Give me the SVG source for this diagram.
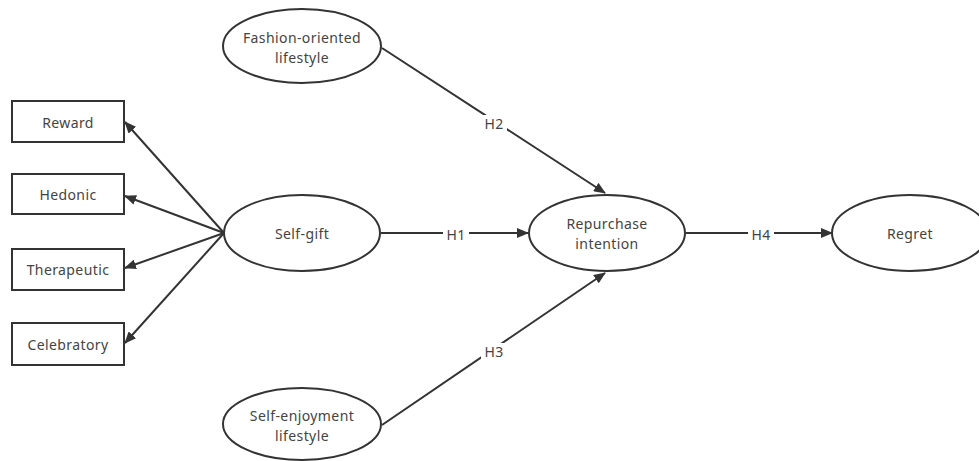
<svg xmlns="http://www.w3.org/2000/svg" width="979" height="461" viewBox="0 0 979 461">
<defs>
<marker id="ah" viewBox="0 0 12 10" refX="11" refY="5" markerWidth="12" markerHeight="10" markerUnits="userSpaceOnUse" orient="auto">
<path d="M0,0 L12,5 L0,10 Z" fill="#333"/>
</marker>
<style>
.n{fill:#fff;stroke:#333;stroke-width:2}
.t{font-family:"Noto Sans","Open Sans",sans-serif;font-size:14px;letter-spacing:0.4px;fill:#444;text-anchor:middle;dominant-baseline:central}
.c{stroke:#333;stroke-width:2;fill:none;marker-end:url(#ah)}
.lb{fill:#fff}
</style>
</defs>
<rect width="979" height="461" fill="#fff"/>
<g id="connectors">
<line class="c" x1="224" y1="233" x2="125" y2="122"/>
<line class="c" x1="224" y1="233" x2="125" y2="196"/>
<line class="c" x1="224" y1="233" x2="125" y2="268"/>
<line class="c" x1="224" y1="233" x2="125" y2="343"/>
<line class="c" x1="381" y1="233" x2="528" y2="233"/>
<line class="c" x1="382" y1="48" x2="605" y2="193"/>
<line class="c" x1="382" y1="425" x2="605" y2="273"/>
<line class="c" x1="686" y1="233" x2="832" y2="233"/>
<rect class="lb" x="443" y="225" width="26" height="16"/>
<text class="t" x="456" y="234">H1</text>
<rect class="lb" x="481" y="115" width="26" height="16"/>
<text class="t" x="494" y="123">H2</text>
<rect class="lb" x="481" y="343" width="26" height="16"/>
<text class="t" x="494" y="351">H3</text>
<rect class="lb" x="748" y="225" width="26" height="16"/>
<text class="t" x="761" y="234">H4</text>
</g>
<g id="reward"><rect class="n" x="12" y="101" width="112" height="41"/><text class="t" x="68" y="122">Reward</text></g>
<g id="hedonic"><rect class="n" x="12" y="174" width="112" height="40"/><text class="t" x="68" y="194">Hedonic</text></g>
<g id="therapeutic"><rect class="n" x="12" y="249" width="112" height="41"/><text class="t" x="68" y="269">Therapeutic</text></g>
<g id="celebratory"><rect class="n" x="12" y="323" width="112" height="42"/><text class="t" x="68" y="344">Celebratory</text></g>
<g id="fashion"><ellipse class="n" cx="302" cy="46" rx="79" ry="37"/><text class="t" x="302" y="37">Fashion-oriented</text><text class="t" x="302" y="57">lifestyle</text></g>
<g id="selfgift"><ellipse class="n" cx="302" cy="233" rx="78" ry="38"/><text class="t" x="302" y="233">Self-gift</text></g>
<g id="selfenjoyment"><ellipse class="n" cx="302" cy="424" rx="79" ry="36"/><text class="t" x="302" y="415">Self-enjoyment</text><text class="t" x="302" y="435">lifestyle</text></g>
<g id="repurchase"><ellipse class="n" cx="607" cy="233" rx="78" ry="38"/><text class="t" x="607" y="223">Repurchase</text><text class="t" x="607" y="243">intention</text></g>
<g id="regret"><ellipse class="n" cx="910" cy="233" rx="78" ry="38"/><text class="t" x="910" y="233">Regret</text></g>
</svg>
